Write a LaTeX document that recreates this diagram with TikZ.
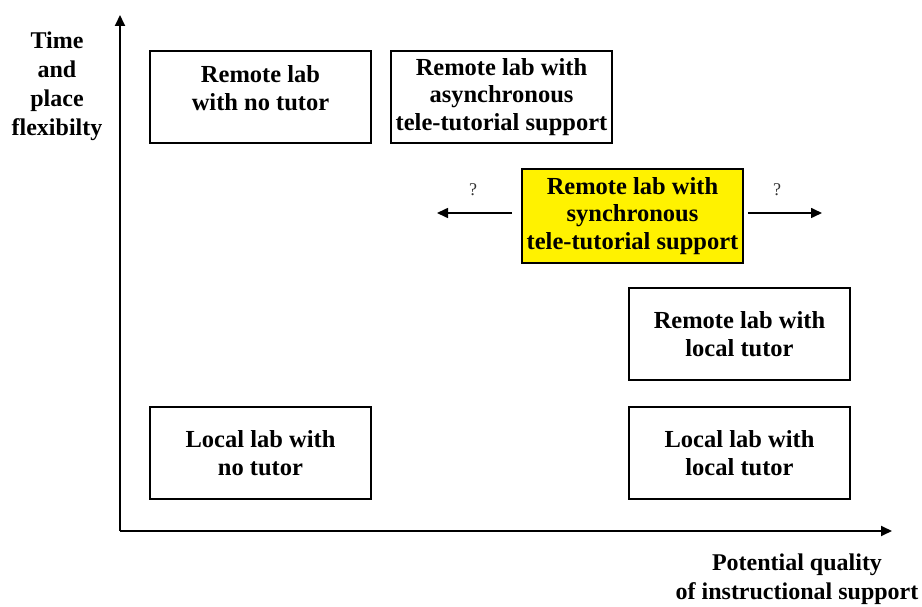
\documentclass[tikz,border=0pt]{standalone}
\usepackage{fontspec}
\setmainfont{Liberation Serif}
\usetikzlibrary{arrows.meta}
\begin{document}
\begin{tikzpicture}[x=1pt,y=-1pt,
  box/.style={draw=black, line width=1.6pt, fill=white, minimum width=221pt, minimum height=92pt, inner sep=0pt},
  boxtext/.style={align=center, inner sep=0pt, font=\bfseries\fontsize{24.5}{27.5}\selectfont},
  axislabel/.style={align=center, inner sep=0pt, anchor=north, font=\bfseries\fontsize{24}{29}\selectfont},
  qmark/.style={inner sep=0pt, font=\fontsize{18}{20}\selectfont, text=black!80},
  axis/.style={line width=1.8pt, -{Triangle[length=11pt,width=10pt]}},
  side/.style={line width=1.6pt, -{Triangle[length=11pt,width=10pt]}}
]
\useasboundingbox (0,0) rectangle (922,607);
% axes
\coordinate (O) at (120,531);
\coordinate (ytop) at (120,15);
\coordinate (xend) at (892,531);
\draw[axis] (O) -- (ytop);
\draw[axis] (O) -- (xend);
% axis labels
\node[axislabel] (ylab) at (57,32) {Time\\and\\place\\flexibilty};
\node[axislabel] (xlab) at (797,554) {Potential quality\\of instructional support};
% boxes
\node[box] (b1) at (260.5,97) {};
\node[boxtext] (t1) at ([yshift=9pt]b1.center) {Remote lab\\with no tutor};
\node[box, boxtext] (b2) at (501.5,97) {Remote lab with\\asynchronous\\tele-tutorial support};
\node[box, boxtext, fill=yellow, minimum height=94pt] (b3) at (632.5,216) {Remote lab with\\synchronous\\tele-tutorial support};
\node[box, boxtext] (b4) at (739.5,334) {Remote lab with\\local tutor};
\node[box, boxtext] (b5) at (260.5,453) {Local lab with\\no tutor};
\node[box, boxtext] (b6) at (739.5,453) {Local lab with\\local tutor};
% side arrows
\coordinate (la) at (437,213);
\coordinate (ra) at (822,213);
\draw[side] ([xshift=-9pt,yshift=3pt]b3.west) -- (la);
\draw[side] ([xshift=4pt,yshift=3pt]b3.east) -- (ra);
\node[qmark] (q1) at (473,190) {?};
\node[qmark] (q2) at (777,190) {?};
\end{tikzpicture}
\end{document}
